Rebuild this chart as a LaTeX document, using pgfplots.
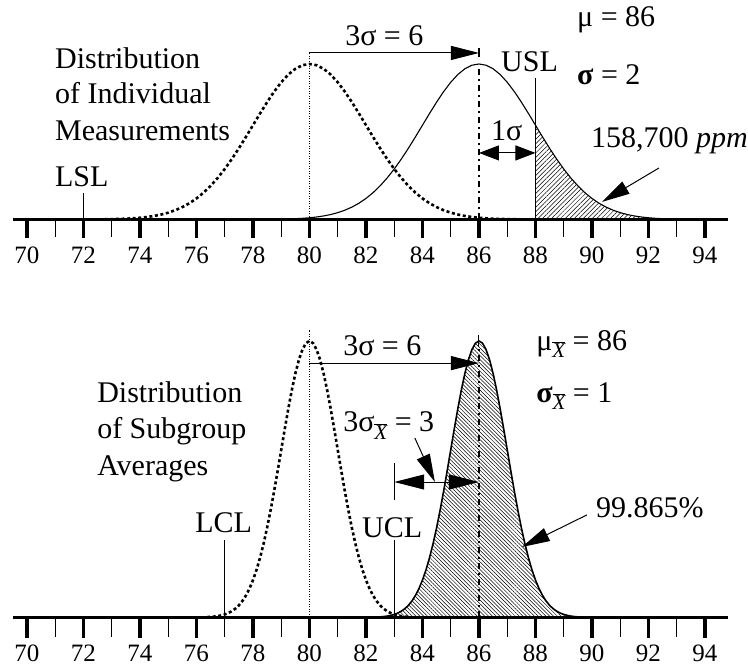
\documentclass[border=0pt]{standalone}
\usepackage{pgfplots}
\pgfplotsset{compat=1.18}
\usepackage{pgfplotstable}
\usepackage{fontspec}
\setmainfont{Liberation Serif}
\usetikzlibrary{arrows.meta,patterns.meta}
\newcommand\xb{\raisebox{-0.55ex}{\fontsize{21}{21}\selectfont$\overline{\hbox{\itshape X}}$}}

% relative curve heights (peak = 1)
\pgfplotstableread{
x y
72.75 0.0014
73 0.0022
73.25 0.0034
73.5 0.0051
73.75 0.0076
74 0.0111
74.25 0.0160
74.5 0.0228
74.75 0.0319
75 0.0439
75.25 0.0596
75.5 0.0796
75.75 0.1046
76 0.1353
76.25 0.1724
76.5 0.2163
76.75 0.2671
77 0.3247
77.25 0.3886
77.5 0.4578
77.75 0.5311
78 0.6065
78.25 0.6819
78.5 0.7548
78.75 0.8226
79 0.8825
79.25 0.9321
79.5 0.9692
79.75 0.9922
80 1
80.25 0.9922
80.5 0.9692
80.75 0.9321
81 0.8825
81.25 0.8226
81.5 0.7548
81.75 0.6819
82 0.6065
82.25 0.5311
82.5 0.4578
82.75 0.3886
83 0.3247
83.25 0.2671
83.5 0.2163
83.75 0.1724
84 0.1353
84.25 0.1046
84.5 0.0796
84.75 0.0596
85 0.0439
85.25 0.0319
85.5 0.0228
85.75 0.0160
86 0.0111
86.25 0.0076
86.5 0.0051
86.75 0.0034
87 0.0022
87.25 0.0014
87.5 0.0009
}\topdotted

\pgfplotstableread{
x y
78.75 0.0014
79 0.0022
79.25 0.0034
79.5 0.0051
79.75 0.0076
80 0.0111
80.25 0.0160
80.5 0.0228
80.75 0.0319
81 0.0439
81.25 0.0596
81.5 0.0796
81.75 0.1046
82 0.1353
82.25 0.1724
82.5 0.2163
82.75 0.2671
83 0.3247
83.25 0.3886
83.5 0.4578
83.75 0.5311
84 0.6065
84.25 0.6819
84.5 0.7548
84.75 0.8226
85 0.8825
85.25 0.9321
85.5 0.9692
85.75 0.9922
86 1
86.25 0.9922
86.5 0.9692
86.75 0.9321
87 0.8825
87.25 0.8226
87.5 0.7548
87.75 0.6819
88 0.6065
88.25 0.5311
88.5 0.4578
88.75 0.3886
89 0.3247
89.25 0.2671
89.5 0.2163
89.75 0.1724
90 0.1353
90.25 0.1046
90.5 0.0796
90.75 0.0596
91 0.0439
91.25 0.0319
91.5 0.0228
91.75 0.0160
92 0.0111
92.25 0.0076
92.5 0.0051
92.75 0.0034
93 0.0022
93.25 0.0014
}\topsolid

\pgfplotstableread{
x y
76.375 0.0014
76.5 0.0022
76.625 0.0034
76.75 0.0051
76.875 0.0076
77 0.0111
77.125 0.0160
77.25 0.0228
77.375 0.0319
77.5 0.0439
77.625 0.0596
77.75 0.0796
77.875 0.1046
78 0.1353
78.125 0.1724
78.25 0.2163
78.375 0.2671
78.5 0.3247
78.625 0.3886
78.75 0.4578
78.875 0.5311
79 0.6065
79.125 0.6819
79.25 0.7548
79.375 0.8226
79.5 0.8825
79.625 0.9321
79.75 0.9692
79.875 0.9922
80 1
80.125 0.9922
80.25 0.9692
80.375 0.9321
80.5 0.8825
80.625 0.8226
80.75 0.7548
80.875 0.6819
81 0.6065
81.125 0.5311
81.25 0.4578
81.375 0.3886
81.5 0.3247
81.625 0.2671
81.75 0.2163
81.875 0.1724
82 0.1353
82.125 0.1046
82.25 0.0796
82.375 0.0596
82.5 0.0439
82.625 0.0319
82.75 0.0228
82.875 0.0160
83 0.0111
83.125 0.0076
83.25 0.0051
83.375 0.0034
83.5 0.0022
}\botdotted

\pgfplotstableread{
x y
82.5 0.0022
82.625 0.0034
82.75 0.0051
82.875 0.0076
83 0.0111
83.125 0.0160
83.25 0.0228
83.375 0.0319
83.5 0.0439
83.625 0.0596
83.75 0.0796
83.875 0.1046
84 0.1353
84.125 0.1724
84.25 0.2163
84.375 0.2671
84.5 0.3247
84.625 0.3886
84.75 0.4578
84.875 0.5311
85 0.6065
85.125 0.6819
85.25 0.7548
85.375 0.8226
85.5 0.8825
85.625 0.9321
85.75 0.9692
85.875 0.9922
86 1
86.125 0.9922
86.25 0.9692
86.375 0.9321
86.5 0.8825
86.625 0.8226
86.75 0.7548
86.875 0.6819
87 0.6065
87.125 0.5311
87.25 0.4578
87.375 0.3886
87.5 0.3247
87.625 0.2671
87.75 0.2163
87.875 0.1724
88 0.1353
88.125 0.1046
88.25 0.0796
88.375 0.0596
88.5 0.0439
88.625 0.0319
88.75 0.0228
88.875 0.0160
89 0.0111
89.125 0.0076
89.25 0.0051
89.375 0.0034
89.5 0.0022
89.625 0.0014
}\botsolid

\pgfplotsset{
 panel/.style={
  scale only axis, width=714.7pt, xmin=69.5, xmax=94.8, ymin=0,
  axis x line*=bottom, axis y line=none, clip=false,
  xtick={70,72,...,94}, major tick length=0pt,
  axis line style={line width=3pt,black},
  xticklabel style={font=\fontsize{25}{25}\selectfont, anchor=north, inner sep=0pt, yshift=-27pt},
  /pgf/number format/assume math mode=true,
 },
}
\tikzset{
 dotcurve/.style={black, line width=2.6pt, dash pattern=on 3pt off 2.6pt},
 solcurve/.style={black, line width=1.1pt},
 thindot/.style={black, line width=0.8pt, dash pattern=on 1pt off 1.5pt},
 dashdot/.style={black, line width=2.6pt, dash pattern=on 6pt off 4pt on 2pt off 4pt},
 bigarrow/.style={-{Triangle[length=28pt,width=14pt]}, line width=1pt},
 majtick/.style={ycomb, black, line width=3.4pt, mark=none},
 mintick/.style={ycomb, black, line width=1.3pt, mark=none},
}

\begin{document}
\begin{tikzpicture}[font=\fontsize{30}{36}\selectfont]
\useasboundingbox (0,0) rectangle (748pt,666pt);

% ---------------- top panel ----------------
\begin{axis}[panel, height=219.5pt, ymax=1.4116, at={(12.875pt,446.5pt)}, anchor=south west]
\addplot[majtick] coordinates {(70,-0.119)(72,-0.119)(74,-0.119)(76,-0.119)(78,-0.119)(80,-0.119)(82,-0.119)(84,-0.119)(86,-0.119)(88,-0.119)(90,-0.119)(92,-0.119)(94,-0.119)};
\addplot[mintick] coordinates {(71,-0.113)(73,-0.113)(75,-0.113)(77,-0.113)(79,-0.113)(81,-0.113)(83,-0.113)(85,-0.113)(87,-0.113)(89,-0.113)(91,-0.113)(93,-0.113)};
\addplot[pattern={Lines[angle=45,distance=3.2pt,line width=0.5pt]}, draw=none, restrict x to domain=88:94] table {\topsolid} \closedcycle;
\addplot[dotcurve] table {\topdotted};
\addplot[solcurve] table {\topsolid};
\draw[thindot] (axis cs:80,0) -- (axis cs:80,1.071);
\draw[bigarrow] (axis cs:80,1.071) -- (axis cs:86,1.071);
\draw[line width=1.2pt] (axis cs:86,1.045) -- (axis cs:86,1.103);
\draw[dashdot] (axis cs:86,0) -- (axis cs:86,0.98);
\draw[line width=1pt] (axis cs:88,0) -- (axis cs:88,0.910);
\draw[line width=1pt] (axis cs:72,0) -- (axis cs:72,0.170);
\draw[{Triangle[length=20pt,width=15pt]}-{Triangle[length=20pt,width=15pt]}, line width=1pt] (axis cs:86,0.428) -- (axis cs:88,0.428);
\draw[bigarrow] (axis cs:92.37,0.331) -- (axis cs:90.35,0.113);
\node[anchor=base west, inner sep=0] at (axis cs:81.26,1.122) {3σ = 6};
\node[anchor=base west, inner sep=0] at (axis cs:86.78,0.949) {USL};
\node[anchor=base west, inner sep=0] at (axis cs:86.42,0.511) {1σ};
\node[anchor=base west, inner sep=0] at (axis cs:89.47,1.238) {μ = 86};
\node[anchor=base west, inner sep=0] at (axis cs:89.47,0.865) {\textbf{σ} = 2};
\node[anchor=base west, inner sep=0] at (axis cs:89.96,0.460) {158,700 \textit{ppm}};
\node[anchor=base west, inner sep=0] at (axis cs:70.99,0.974) {Distribution};
\node[anchor=base west, inner sep=0] at (axis cs:70.99,0.749) {of Individual};
\node[anchor=base west, inner sep=0] at (axis cs:70.99,0.511) {Measurements};
\node[anchor=base west, inner sep=0] at (axis cs:70.99,0.209) {LSL};
\end{axis}

% ---------------- bottom panel ----------------
\begin{axis}[panel, height=317.5pt, ymax=1.1483, at={(12.875pt,48.5pt)}, anchor=south west]
\addplot[majtick] coordinates {(70,-0.074)(72,-0.074)(74,-0.074)(76,-0.074)(78,-0.074)(80,-0.074)(82,-0.074)(84,-0.074)(86,-0.074)(88,-0.074)(90,-0.074)(92,-0.074)(94,-0.074)};
\addplot[mintick] coordinates {(71,-0.070)(73,-0.070)(75,-0.070)(77,-0.070)(79,-0.070)(81,-0.070)(83,-0.070)(85,-0.070)(87,-0.070)(89,-0.070)(91,-0.070)(93,-0.070)};
\addplot[pattern={Lines[angle=-45,distance=2.7pt,line width=0.5pt]}, draw=none] table {\botsolid} \closedcycle;
\addplot[dotcurve] table {\botdotted};
\addplot[black, line width=1.6pt] table {\botsolid};
\draw[thindot] (axis cs:80,0) -- (axis cs:80,1.040);
\draw[bigarrow] (axis cs:80,0.920) -- (axis cs:86,0.920);
\draw[dashdot] (axis cs:86,0) -- (axis cs:86,0.98);
\draw[line width=1pt] (axis cs:86,0.98) -- (axis cs:86,1.022);
\draw[line width=1pt] (axis cs:83,0) -- (axis cs:83,0.280);
\draw[line width=1pt] (axis cs:77,0) -- (axis cs:77,0.280);
\draw[line width=1pt] (axis cs:83,0.425) -- (axis cs:83,0.559);
\draw[{Triangle[length=30pt,width=15pt]}-{Triangle[length=30pt,width=15pt]}, line width=1pt] (axis cs:83,0.490) -- (axis cs:86,0.490);
\draw[bigarrow] (axis cs:83.73,0.649) -- (axis cs:84.44,0.490);
\draw[bigarrow] (axis cs:89.82,0.371) -- (axis cs:87.52,0.255);
\node[anchor=base west, inner sep=0] at (axis cs:81.19,0.949) {3σ = 6};
\node[anchor=base west, inner sep=0] at (axis cs:81.19,0.671) {3σ\xb\ = 3};
\node[anchor=base west, inner sep=0] at (axis cs:81.86,0.288) {UCL};
\node[anchor=base west, inner sep=0] at (axis cs:75.95,0.306) {LCL};
\node[anchor=base west, inner sep=0] at (axis cs:88.02,0.967) {μ\xb\ = 86};
\node[anchor=base west, inner sep=0] at (axis cs:88.02,0.779) {\textbf{σ}\xb\ = 1};
\node[anchor=base west, inner sep=0] at (axis cs:90.14,0.360) {99.865\%};
\node[anchor=base west, inner sep=0] at (axis cs:72.48,0.776) {Distribution};
\node[anchor=base west, inner sep=0] at (axis cs:72.48,0.646) {of Subgroup};
\node[anchor=base west, inner sep=0] at (axis cs:72.48,0.515) {Averages};
\end{axis}
\end{tikzpicture}
\end{document}
